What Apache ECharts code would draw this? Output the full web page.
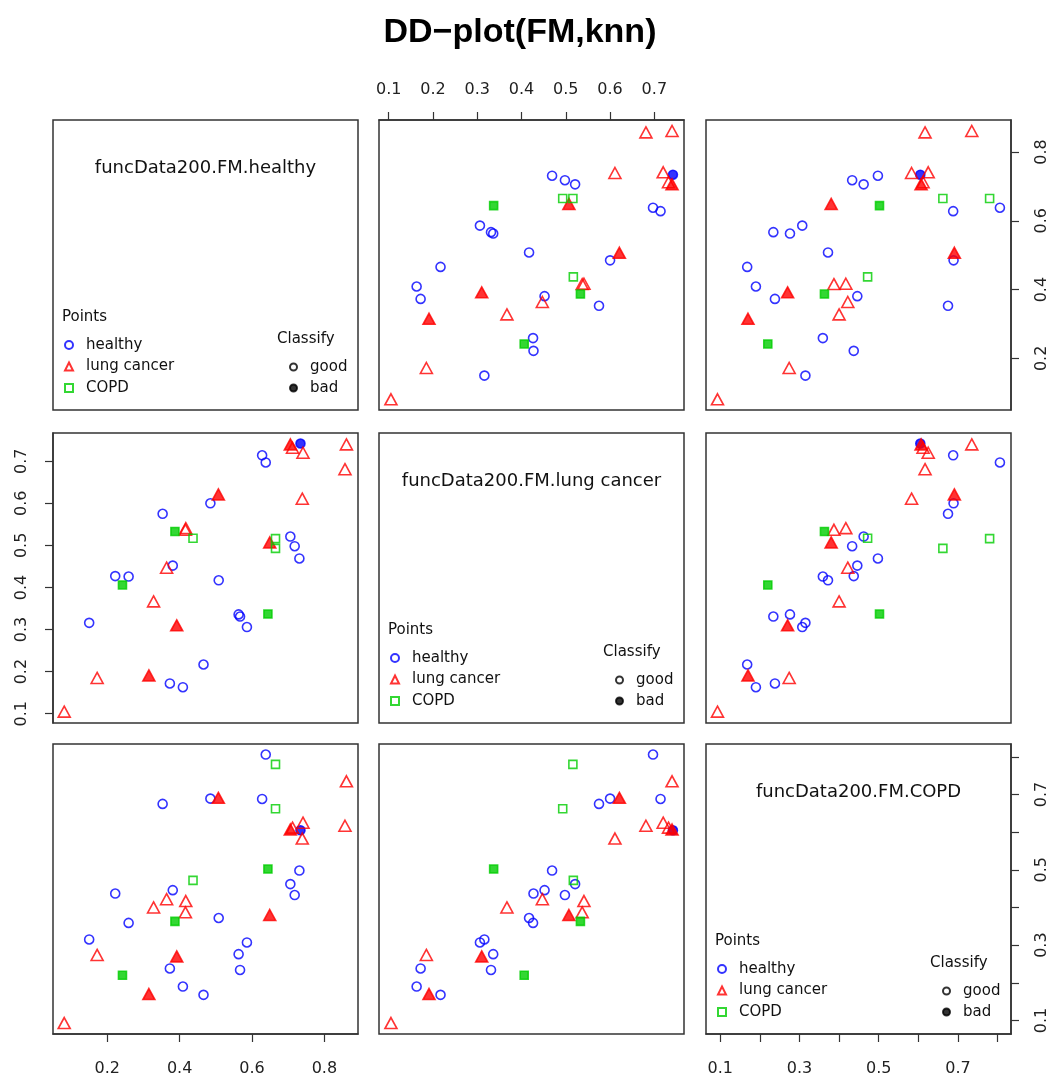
<!DOCTYPE html>
<html><head><meta charset="utf-8">
<script src="https://cdn.jsdelivr.net/npm/echarts@6/dist/echarts.min.js"></script>
<style>html,body{margin:0;padding:0;background:#fff}#c{width:1052px;height:1078px}</style>
</head><body><div id="c"></div>
<script>
// ---------- data ----------
const mainTitle = 'DD\u2212plot(FM,knn)';
const varNames = ['funcData200.FM.healthy', 'funcData200.FM.lung cancer', 'funcData200.FM.COPD'];
const classNames = ['healthy', 'lung cancer', 'COPD'];
const classifyNames = ['good', 'bad'];

// depth w.r.t. healthy (H), lung cancer (L), COPD (C); bad = misclassified
const healthyH = [0.628, 0.638, 0.485, 0.353, 0.706, 0.718, 0.731, 0.381, 0.222, 0.259, 0.508, 0.150, 0.563, 0.567, 0.586, 0.466, 0.373, 0.409, 0.734];
const healthyL = [0.714, 0.697, 0.600, 0.575, 0.521, 0.498, 0.469, 0.452, 0.427, 0.426, 0.417, 0.316, 0.336, 0.331, 0.306, 0.217, 0.172, 0.163, 0.742];
const healthyC = [0.688, 0.806, 0.689, 0.675, 0.462, 0.433, 0.498, 0.446, 0.437, 0.359, 0.372, 0.315, 0.276, 0.234, 0.307, 0.168, 0.238, 0.190, 0.605];
const healthyBad = [0, 0, 0, 0, 0, 0, 0, 0, 0, 0, 0, 0, 0, 0, 0, 0, 0, 0, 1];

const lungH = [0.861, 0.857, 0.739, 0.741, 0.712, 0.706, 0.417, 0.416, 0.364, 0.328, 0.172, 0.081, 0.507, 0.649, 0.392, 0.315];
const lungL = [0.740, 0.681, 0.611, 0.720, 0.732, 0.740, 0.541, 0.537, 0.447, 0.367, 0.185, 0.105, 0.621, 0.507, 0.310, 0.191];
const lungC = [0.735, 0.617, 0.583, 0.625, 0.612, 0.607, 0.417, 0.387, 0.422, 0.400, 0.274, 0.093, 0.691, 0.380, 0.270, 0.170];
const lungBad = [0, 0, 0, 0, 0, 1, 0, 0, 0, 0, 0, 0, 1, 1, 1, 1];

const copdH = [0.387, 0.242, 0.644, 0.437, 0.665, 0.665];
const copdL = [0.533, 0.406, 0.337, 0.517, 0.516, 0.493];
const copdC = [0.363, 0.220, 0.502, 0.472, 0.780, 0.662];
const copdBad = [1, 1, 1, 0, 0, 0];

const hTicks = [0.2, 0.4, 0.6, 0.8];
const lTicks = [0.1, 0.2, 0.3, 0.4, 0.5, 0.6, 0.7];
const cTicks = [0.1, 0.2, 0.3, 0.4, 0.5, 0.6, 0.7, 0.8];
const cLabels = [0.1, 0.3, 0.5, 0.7];

// ---------- layout / style ----------
const axisRanges = [[0.05, 0.893], [0.078, 0.767], [0.064, 0.834]];
const tickSets = [hTicks, lTicks, cTicks];
const labelSets = [hTicks, lTicks, cLabels];
const colLeft = [53, 379, 706];
const rowTop = [120, 433, 744];
const PW = 305, PH = 290;
const FONT = 'DejaVu Sans';
const classStyle = [
  {symbol: 'circle', size: 9, color: '#0000FF'},
  {symbol: 'triangle', size: [12, 11], color: '#FF0000'},
  {symbol: 'rect', size: 8, color: '#00CD00'}
];
const classData = [
  {vals: [healthyH, healthyL, healthyC], bad: healthyBad},
  {vals: [lungH, lungL, lungC], bad: lungBad},
  {vals: [copdH, copdL, copdC], bad: copdBad}
];

const grids = [], xAxes = [], yAxes = [], series = [], titles = [], legends = [];
titles.push({text: mainTitle, left: 520, top: 16, textAlign: 'center', padding: 0,
  textStyle: {fontFamily: 'Liberation Sans', fontWeight: 'bold', fontSize: 34, color: '#000'}});

function axisCfg(v, pos, isY) {
  return {
    type: 'value', min: axisRanges[v][0], max: axisRanges[v][1], position: pos,
    show: true,
    axisLine: {show: true, lineStyle: {color: '#333', width: 1.5}},
    axisTick: {show: true, inside: false, length: 8, lineStyle: {color: '#333', width: 1.2}, customValues: tickSets[v]},
    axisLabel: {show: true, customValues: labelSets[v], formatter: (x) => x.toFixed(1),
      fontFamily: FONT, fontSize: 16, color: '#222',
      margin: isY ? 23 : (pos === 'bottom' ? 27 : 22), rotate: isY ? 90 : 0},
    splitLine: {show: false}
  };
}
function hiddenAxis(v) {
  return {type: 'value', min: axisRanges[v][0], max: axisRanges[v][1], show: false, splitLine: {show: false}};
}

for (let r = 0; r < 3; r++) {
  for (let c = 0; c < 3; c++) {
    const gi = r * 3 + c;
    grids.push({left: colLeft[c], top: rowTop[r], width: PW, height: PH, show: true,
      borderColor: '#333', borderWidth: 1.5, backgroundColor: 'transparent'});
    let xa;
    if (r === 0 && c === 1) xa = axisCfg(c, 'top', false);
    else if (r === 2 && (c === 0 || c === 2)) xa = axisCfg(c, 'bottom', false);
    else xa = hiddenAxis(c);
    xa.gridIndex = gi; xAxes.push(xa);
    let ya;
    if (c === 0 && r === 1) ya = axisCfg(r, 'left', true);
    else if (c === 2 && (r === 0 || r === 2)) ya = axisCfg(r, 'right', true);
    else ya = hiddenAxis(r);
    ya.gridIndex = gi; yAxes.push(ya);

    if (r === c) {
      const cx = colLeft[c] + PW / 2, top = rowTop[r];
      titles.push({text: varNames[r], left: cx, top: top + 37, textAlign: 'center', padding: 0,
        textStyle: {fontFamily: FONT, fontSize: 18, fontWeight: 'normal', color: '#111', lineHeight: 22}});
      titles.push({text: 'Points', left: colLeft[c] + 9, top: top + 188, padding: 0,
        textStyle: {fontFamily: FONT, fontSize: 15, fontWeight: 'normal', color: '#111', lineHeight: 18}});
      titles.push({text: 'Classify', left: colLeft[c] + 224, top: top + 210, padding: 0,
        textStyle: {fontFamily: FONT, fontSize: 15, fontWeight: 'normal', color: '#111', lineHeight: 18}});
      legends.push({data: classNames, orient: 'vertical', left: colLeft[c] + 11, top: top + 217,
        padding: 0, itemGap: 5.5, itemWidth: 8, itemHeight: 8, selectedMode: false,
        textStyle: {fontFamily: FONT, fontSize: 15, color: '#111', lineHeight: 16, padding: [0, 0, 0, 8]}});
      legends.push({data: classifyNames, orient: 'vertical', left: colLeft[c] + 236, top: top + 239,
        padding: 0, itemGap: 5, itemWidth: 7, itemHeight: 7, selectedMode: false,
        textStyle: {fontFamily: FONT, fontSize: 15, color: '#111', lineHeight: 16, padding: [0, 0, 0, 8]}});
      continue;
    }
    for (let k = 0; k < 3; k++) {
      const cd = classData[k], st = classStyle[k];
      const data = cd.bad.map((b, i) => {
        const item = {value: [cd.vals[c][i], cd.vals[r][i]]};
        if (b) item.itemStyle = {color: st.color};
        return item;
      });
      series.push({type: 'scatter', name: classNames[k], xAxisIndex: gi, yAxisIndex: gi,
        symbol: st.symbol, symbolSize: st.size, data: data,
        itemStyle: {color: 'rgba(0,0,0,0)', borderColor: st.color, borderWidth: 1.6},
        emphasis: {disabled: true}});
    }
  }
}
// legend-only series for the classification markers
series.push({type: 'scatter', name: 'good', xAxisIndex: 0, yAxisIndex: 0, data: [], symbol: 'circle',
  itemStyle: {color: 'rgba(0,0,0,0)', borderColor: '#000', borderWidth: 1.5}});
series.push({type: 'scatter', name: 'bad', xAxisIndex: 0, yAxisIndex: 0, data: [], symbol: 'circle',
  itemStyle: {color: '#000', borderColor: '#000', borderWidth: 1}});

const chart = echarts.init(document.getElementById('c'), null, {renderer: 'canvas'});
chart.setOption({
  animation: false,
  backgroundColor: '#fff',
  title: titles,
  legend: legends,
  grid: grids,
  xAxis: xAxes,
  yAxis: yAxes,
  series: series
});
</script>
</body></html>
